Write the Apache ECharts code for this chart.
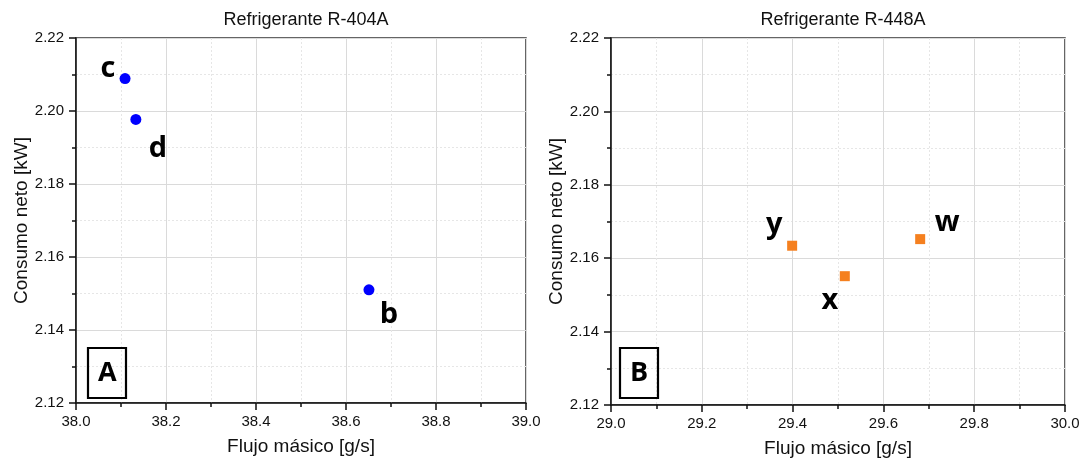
<!DOCTYPE html>
<html>
<head>
<meta charset="utf-8">
<script src="https://cdn.jsdelivr.net/npm/echarts@6/dist/echarts.min.js"></script>
<style>
html,body{margin:0;padding:0;background:#fff;}
#chart{width:1086px;height:466px;}
</style>
</head>
<body>
<div id="chart"></div>
<script>
// ---- Data ----
const titlesText = ['Refrigerante R-404A', 'Refrigerante R-448A'];
const panelLetters = ['A', 'B'];
const xAxisName = 'Flujo másico [g/s]';
const yAxisName = 'Consumo neto [kW]';

const r404Names = ['c', 'd', 'b'];
const r404Flow = [38.109, 38.133, 38.651];
const r404Power = [2.2089, 2.1977, 2.1510];

const r448Names = ['y', 'x', 'w'];
const r448Flow = [29.399, 29.515, 29.681];
const r448Power = [2.1634, 2.1551, 2.1652];

const xRanges = [[38.0, 39.0], [29.0, 30.0]];
const yRange = [2.12, 2.22];

// ---- Styles / layout (kept apart from data) ----
const labelOffsets = {
  c: [-17, -10], d: [22, 29], b: [20, 25],
  y: [-18, -21], x: [-15, 25], w: [27, -16]
};
const grids = [
  { left: 76, top: 38, width: 450, height: 365 },
  { left: 611, top: 38, width: 454, height: 367 }
];
const titleCenters = [301, 838];
const boxLefts = [88, 620];

const FONT = '"Liberation Sans", Arial, sans-serif';
const BOLD = '"Open Sans", "Liberation Sans", sans-serif';

function makeData(names, xs, ys) {
  return names.map((n, i) => ({
    name: n,
    value: [xs[i], ys[i]],
    label: { offset: labelOffsets[n] }
  }));
}

function xAxisCfg(i) {
  return {
    type: 'value', gridIndex: i, min: xRanges[i][0], max: xRanges[i][1], interval: 0.2,
    name: xAxisName, nameLocation: 'middle', nameGap: 34,
    nameTextStyle: { fontFamily: FONT, fontSize: 19, color: '#111' },
    axisLine: { show: true, onZero: false, lineStyle: { color: '#111', width: 1.5 } },
    axisTick: { show: true, inside: false, length: 7, lineStyle: { color: '#111', width: 1.5 } },
    minorTick: { show: true, splitNumber: 2, length: 4, lineStyle: { color: '#111', width: 1.5 } },
    axisLabel: { fontFamily: FONT, fontSize: 15, color: '#111', margin: 11,
      formatter: v => v.toFixed(1) },
    splitLine: { show: true, lineStyle: { color: '#dadada', width: 1 } },
    minorSplitLine: { show: true, lineStyle: { color: '#e6e6e6', width: 1, type: [2, 2] } }
  };
}
function yAxisCfg(i) {
  return {
    type: 'value', gridIndex: i, min: yRange[0], max: yRange[1], interval: 0.02,
    name: yAxisName, nameLocation: 'middle', nameGap: 45,
    nameTextStyle: { fontFamily: FONT, fontSize: 19, color: '#111' },
    axisLine: { show: true, onZero: false, lineStyle: { color: '#111', width: 1.5 } },
    axisTick: { show: true, inside: false, length: 7, lineStyle: { color: '#111', width: 1.5 } },
    minorTick: { show: true, splitNumber: 2, length: 4, lineStyle: { color: '#111', width: 1.5 } },
    axisLabel: { fontFamily: FONT, fontSize: 15, color: '#111', margin: 12,
      formatter: v => v.toFixed(2) },
    splitLine: { show: true, lineStyle: { color: '#dadada', width: 1 } },
    minorSplitLine: { show: true, lineStyle: { color: '#e6e6e6', width: 1, type: [2, 2] } }
  };
}

const labelStyle = {
  show: true, position: 'inside', formatter: '{b}',
  fontFamily: BOLD, fontWeight: 'bold', fontSize: 29, color: '#000', opacity: 1,
  align: 'center', verticalAlign: 'middle'
};

const option = {
  animation: false,
  backgroundColor: '#fff',
  title: [
    ...titlesText.map((t, i) => ({
      text: t, left: titleCenters[i], top: 6, textAlign: 'center',
      textStyle: { fontFamily: FONT, fontSize: 18, fontWeight: 'normal', color: '#111' }
    })),
    ...panelLetters.map((t, i) => ({
      text: t, left: boxLefts[i], top: 348,
      borderColor: '#000', borderWidth: 2.2,
      padding: [10, 10, 10, 10],
      textStyle: { fontFamily: BOLD, fontSize: 27, fontWeight: 'bold', color: '#000', lineHeight: 30 }
    }))
  ],
  grid: grids.map(g => Object.assign({ show: true, borderColor: '#333', borderWidth: 1.5, backgroundColor: 'transparent' }, g)),
  xAxis: [xAxisCfg(0), xAxisCfg(1)],
  yAxis: [yAxisCfg(0), yAxisCfg(1)],
  series: [
    {
      type: 'scatter', xAxisIndex: 0, yAxisIndex: 0,
      symbol: 'circle', symbolSize: 11,
      itemStyle: { color: '#0000ff', opacity: 1 },
      label: labelStyle,
      data: makeData(r404Names, r404Flow, r404Power)
    },
    {
      type: 'scatter', xAxisIndex: 1, yAxisIndex: 1,
      symbol: 'rect', symbolSize: 10,
      itemStyle: { color: '#f5801f', opacity: 1 },
      label: labelStyle,
      data: makeData(r448Names, r448Flow, r448Power)
    }
  ]
};

const chart = echarts.init(document.getElementById('chart'), null, { renderer: 'canvas' });
chart.setOption(option);
</script>
</body>
</html>
